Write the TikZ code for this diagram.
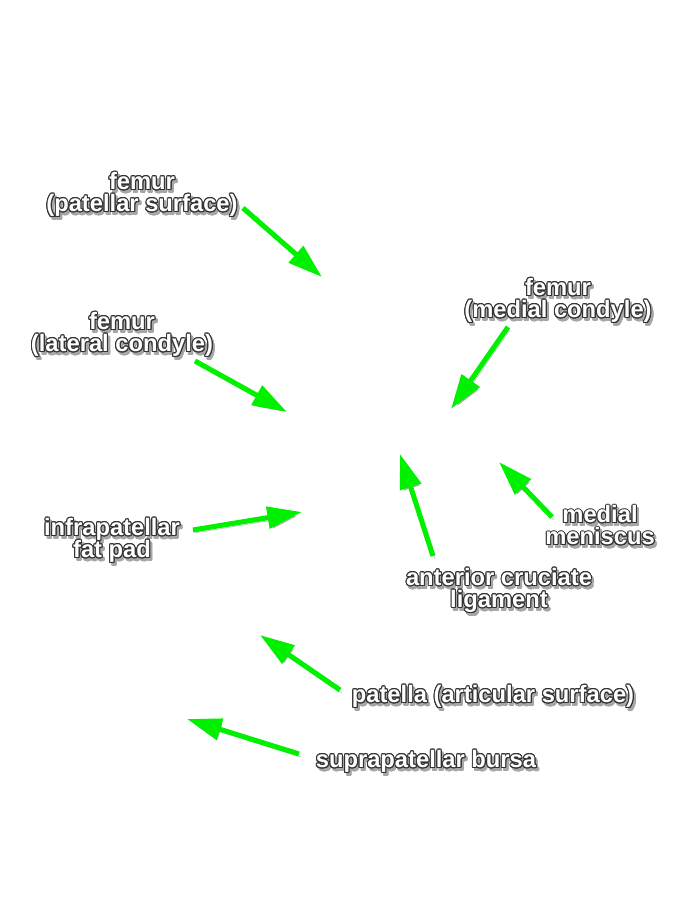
\documentclass[tikz,border=0pt]{standalone}
\usepackage{fontspec}
\setmainfont{Liberation Sans}
\usepackage[copies]{contour}
\contourlength{0.75pt}
\definecolor{ArrowGreen}{HTML}{00F000}
\usetikzlibrary{arrows.meta}

% white label with thin dark rim and soft shadow
\newcommand{\lab}[1]{\leavevmode\rlap{\hspace{1.6pt}\smash{\raisebox{-2.2pt}{\color{black!35}\contour{black!35}{#1}}}}\contour{black!80}{#1}}
\newcommand{\labfont}{\bfseries\fontsize{17.8}{16.5}\selectfont\lineskiplimit=-100pt\relax}

\begin{document}
\begin{tikzpicture}[x=0.75pt, y=-0.75pt,
    font=\labfont,
    text=white,
    inner sep=0pt,
    align=center,
    pointer/.style={draw=ArrowGreen,
      line width=3.8pt,
      -{Triangle[length=26pt,width=16pt]},
      preaction={draw=black!50, opacity=0.55,
        transform canvas={shift={(1.5pt,-2.2pt)}}}}]
    \path [use as bounding box] (0,0) rectangle (683,900);

    \node[name=patsurf, at={(142,195)}] {\lab{femur}\\\lab{(patellar surface)}};
    \node[name=latcond, at={(122,335)}] {\lab{femur}\\\lab{(lateral condyle)}};
    \node[name=medcond, at={(558,301)}] {\lab{femur}\\\lab{(medial condyle)}};
    \node[name=fatpad, at={(112,541)}] {\lab{infrapatellar}\\\lab{fat pad}};
    \node[name=acl, at={(499,591)}] {\lab{anterior cruciate}\\\lab{ligament}};
    \node[name=menisc, at={(600,526)}] {\lab{medial}\\\lab{meniscus}};
    \node[name=patart, at={(493,697)}] {\lab{patella (articular surface)}};
    \node[name=bursa, at={(426,762)}] {\lab{suprapatellar bursa}};

    \coordinate (patsurffrom) at (243,208);
    \coordinate (patsurfto) at (322,277);
    \coordinate (latcondfrom) at (195,361);
    \coordinate (latcondto) at (287,412);
    \coordinate (medcondfrom) at (508,327);
    \coordinate (medcondto) at (451,409);
    \coordinate (fatpadfrom) at (193,530);
    \coordinate (fatpadto) at (302,512);
    \coordinate (aclfrom) at (433,556);
    \coordinate (aclto) at (400,454);
    \coordinate (meniscfrom) at (552,517);
    \coordinate (meniscto) at (499,462);
    \coordinate (patartfrom) at (340,690);
    \coordinate (patartto) at (260,635);
    \coordinate (bursafrom) at (299,754);
    \coordinate (bursato) at (187,719);

    \path (patsurffrom) edge[pointer] (patsurfto);
    \path (latcondfrom) edge[pointer] (latcondto);
    \path (medcondfrom) edge[pointer] (medcondto);
    \path (fatpadfrom) edge[pointer] (fatpadto);
    \path (aclfrom) edge[pointer] (aclto);
    \path (meniscfrom) edge[pointer] (meniscto);
    \path (patartfrom) edge[pointer] (patartto);
    \path (bursafrom) edge[pointer] (bursato);
\end{tikzpicture}
\end{document}
